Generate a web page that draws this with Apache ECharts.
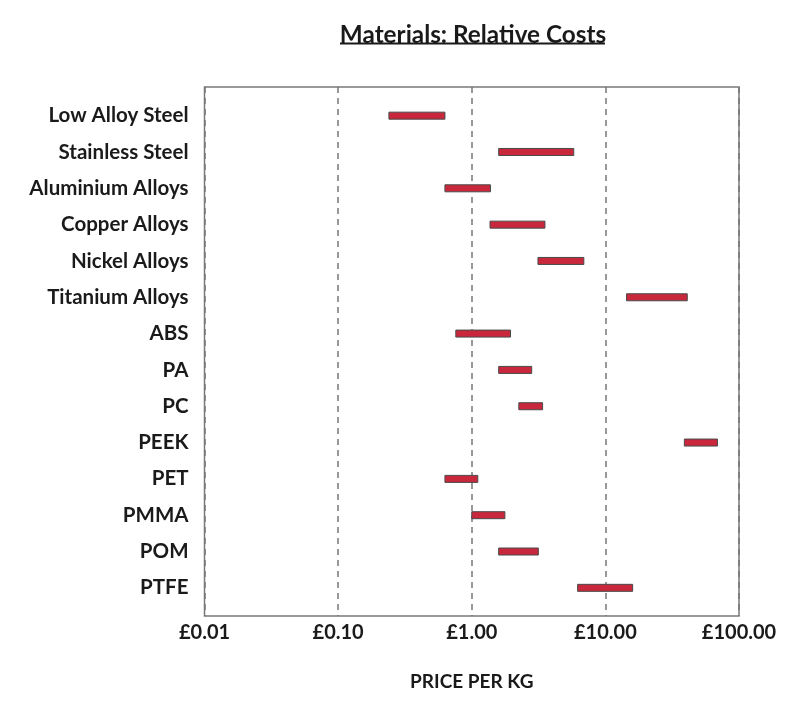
<!DOCTYPE html>
<html>
<head>
<meta charset="utf-8">
<script src="https://cdn.jsdelivr.net/npm/echarts@6/dist/echarts.min.js"></script>
<style>
  html, body { margin: 0; padding: 0; background: #fff; }
  #chart { width: 800px; height: 708px; }
</style>
</head>
<body>
<div id="chart"></div>
<script>
var materials = ['Low Alloy Steel', 'Stainless Steel', 'Aluminium Alloys', 'Copper Alloys',
    'Nickel Alloys', 'Titanium Alloys', 'ABS', 'PA', 'PC', 'PEEK', 'PET', 'PMMA', 'POM', 'PTFE'];
var priceLow  = [0.24, 1.59, 0.63, 1.37, 3.13, 14.4, 0.76, 1.59, 2.25, 39, 0.63, 1.0, 1.59, 6.2];
var priceHigh = [0.63, 5.8, 1.38, 3.53, 6.9, 41, 1.95, 2.81, 3.39, 69, 1.11, 1.77, 3.15, 16.0];

var font = 'Lato';

var myChart = echarts.init(document.getElementById('chart'));

var rangeData = materials.map(function (m, i) {
    return [i, priceLow[i], priceHigh[i]];
});

var option = {
    animation: false,
    title: {
        text: 'Materials: Relative Costs',
        left: 468,
        textAlign: 'center',
        top: 18,
        textStyle: { fontFamily: font, fontWeight: 'bold', fontSize: 24.3, color: '#1a1a1a' }
    },
    graphic: [{
        type: 'line',
        shape: { x1: 340, y1: 43.5, x2: 605, y2: 43.5 },
        style: { stroke: '#1a1a1a', lineWidth: 2 }
    }],
    grid: [
        // frame grid (border + dashed lines + labels)
        { left: 204.5, right: 61, top: 87, bottom: 92, show: true, borderColor: '#7a7a7a', borderWidth: 1.5, backgroundColor: 'transparent' },
        // data grid, inset like the original
        { left: 204.5, right: 61, top: 97.5, bottom: 102 }
    ],
    xAxis: [
        {
            gridIndex: 0,
            type: 'log',
            logBase: 10,
            min: 0.01,
            max: 100,
            name: 'PRICE PER KG',
            nameLocation: 'middle',
            nameGap: 56,
            nameTextStyle: { fontFamily: font, fontWeight: 'bold', fontSize: 19, color: '#1a1a1a' },
            axisLine: { show: false },
            axisTick: { show: false },
            axisLabel: {
                margin: 7,
                fontFamily: font, fontWeight: 'bold', fontSize: 20, color: '#1a1a1a',
                formatter: function (v) { return '£' + v.toFixed(2); }
            },
            splitLine: { show: true, lineStyle: { color: '#777', width: 1.5, type: [6, 5] } }
        },
        {
            gridIndex: 1,
            type: 'log',
            logBase: 10,
            min: 0.01,
            max: 100,
            show: false,
            splitLine: { show: false }
        }
    ],
    yAxis: [
        { gridIndex: 0, type: 'value', min: 0, max: 1, show: false, splitLine: { show: false } },
        {
            gridIndex: 1,
            type: 'category',
            data: materials,
            inverse: true,
            axisLine: { show: false },
            axisTick: { show: false },
            splitLine: { show: false },
            axisLabel: {
                margin: 16,
                fontFamily: font, fontWeight: 'bold', fontSize: 20.5, color: '#1a1a1a'
            }
        }
    ],
    series: [{
        type: 'custom',
        xAxisIndex: 1,
        yAxisIndex: 1,
        encode: { x: [1, 2], y: 0 },
        data: rangeData,
        renderItem: function (params, api) {
            var start = api.coord([api.value(1), api.value(0)]);
            var end = api.coord([api.value(2), api.value(0)]);
            var h = 7;
            return {
                type: 'rect',
                shape: { x: start[0], y: start[1] - h / 2, width: end[0] - start[0], height: h },
                style: { fill: '#c9283c', stroke: '#4a4a4a', lineWidth: 1 }
            };
        }
    }]
};

myChart.setOption(option);
</script>
</body>
</html>
